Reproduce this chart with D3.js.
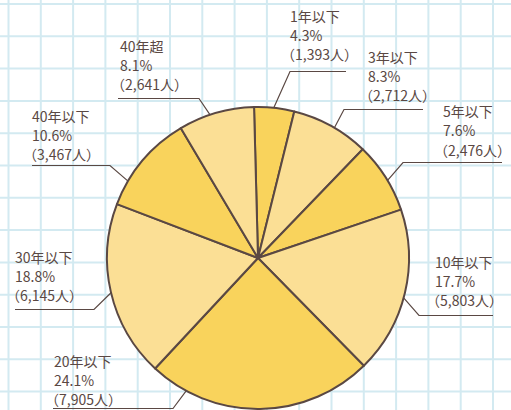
<!DOCTYPE html>
<html>
<head>
<meta charset="utf-8">
<script src="https://cdn.jsdelivr.net/npm/d3@7"></script>
<style>
    body { margin: 0; background: #ffffff; }
    svg { display: block; }
    .label { font-family: "Noto Sans CJK JP", "Noto Sans", sans-serif; font-size: 14px; fill: #5a4843; }
</style>
</head>
<body>
<div class="piechart"></div>
<script>

// Data: years of service, share and head count
var categories = ["1年以下", "3年以下", "5年以下", "10年以下", "20年以下", "30年以下", "40年以下", "40年超"];
var percents = ["4.3%", "8.3%", "7.6%", "17.7%", "24.1%", "18.8%", "10.6%", "8.1%"];
var counts = [1393, 2712, 2476, 5803, 7905, 6145, 3467, 2641];

// Label layout: text left x, first baseline, underline y, underline x range,
// and the angle (degrees from top) where the leader meets the pie
var labelX = [290, 368, 443, 435, 54, 15, 32, 120];
var labelY = [21.5, 62.5, 117, 267.5, 366.5, 262.5, 121.5, 51.5];
var lineY = [71.5, 109.5, 162.5, 315.5, 408.5, 309.5, 165.5, 98.5];
var lineX1 = [290, 344, 403, 419, 53, 15, 32, 118];
var lineX2 = [346, 423, 502, 493, 173, 94, 110, 199];
var leaderAngle = [6, 30.4, 59.1, 105.3, 208.4, 256.7, 300.6, 341.5];

var width = 511,
    height = 410,
    cx = 258,
    cy = 258,
    radius = 151,
    gridStep = 32.3,
    rotate = -1.5 * Math.PI / 180;

var colors = ["#f9d35c", "#fbdf95"];
var ink = "#5a4843";

var svg = d3.select(".piechart")
    .append("svg")
        .attr("width", width)
        .attr("height", height);

// Graph paper background
var gridX = d3.range(8.5, width, gridStep);
var gridY = d3.range(4, height, gridStep);

svg.append("g")
    .selectAll("line")
    .data(gridX)
    .enter().append("line")
        .attr("x1", function(d) { return d; })
        .attr("x2", function(d) { return d; })
        .attr("y1", 0)
        .attr("y2", height)
        .attr("stroke", "#d3eaf1")
        .attr("stroke-width", 2);

svg.append("g")
    .selectAll("line")
    .data(gridY)
    .enter().append("line")
        .attr("y1", function(d) { return d; })
        .attr("y2", function(d) { return d; })
        .attr("x1", 0)
        .attr("x2", width)
        .attr("stroke", "#d3eaf1")
        .attr("stroke-width", 2);

// Pie
var pie = d3.pie()
    .sort(null)
    .startAngle(rotate)
    .endAngle(rotate + 2 * Math.PI);

var arc = d3.arc()
    .innerRadius(0)
    .outerRadius(radius);

var g = svg.append("g")
    .attr("transform", "translate(" + cx + "," + cy + ")");

g.selectAll(".slice")
    .data(pie(counts))
    .enter().append("path")
        .attr("class", "slice")
        .attr("d", arc)
        .attr("fill", function(d, i) { return colors[i % 2]; })
        .attr("stroke", ink)
        .attr("stroke-width", 2)
        .attr("stroke-linejoin", "round");

// Leader lines: underline plus a slanted stroke to the pie edge
var format = d3.format(",");

categories.forEach(function(c, i) {
    var a = leaderAngle[i] * Math.PI / 180;
    var ex = cx + radius * Math.sin(a),
        ey = cy - radius * Math.cos(a);
    var right = ex > lineX2[i];
    var sx = right ? lineX2[i] : lineX1[i];
    var path = right
        ? [[lineX1[i], lineY[i]], [sx, lineY[i]], [ex, ey]]
        : [[lineX2[i], lineY[i]], [sx, lineY[i]], [ex, ey]];

    svg.append("path")
        .attr("d", d3.line()(path))
        .attr("fill", "none")
        .attr("stroke", ink)
        .attr("stroke-width", 1.2);

    var t = svg.append("text")
        .attr("class", "label")
        .attr("x", labelX[i])
        .attr("y", labelY[i]);

    t.append("tspan")
        .attr("x", labelX[i])
        .text(c);
    t.append("tspan")
        .attr("x", labelX[i])
        .attr("dy", 19.3)
        .text(percents[i]);
    t.append("tspan")
        .attr("x", labelX[i] - 9)
        .attr("dy", 19.3)
        .text("（" + format(counts[i]) + "人）");
});

</script>
</body>
</html>
